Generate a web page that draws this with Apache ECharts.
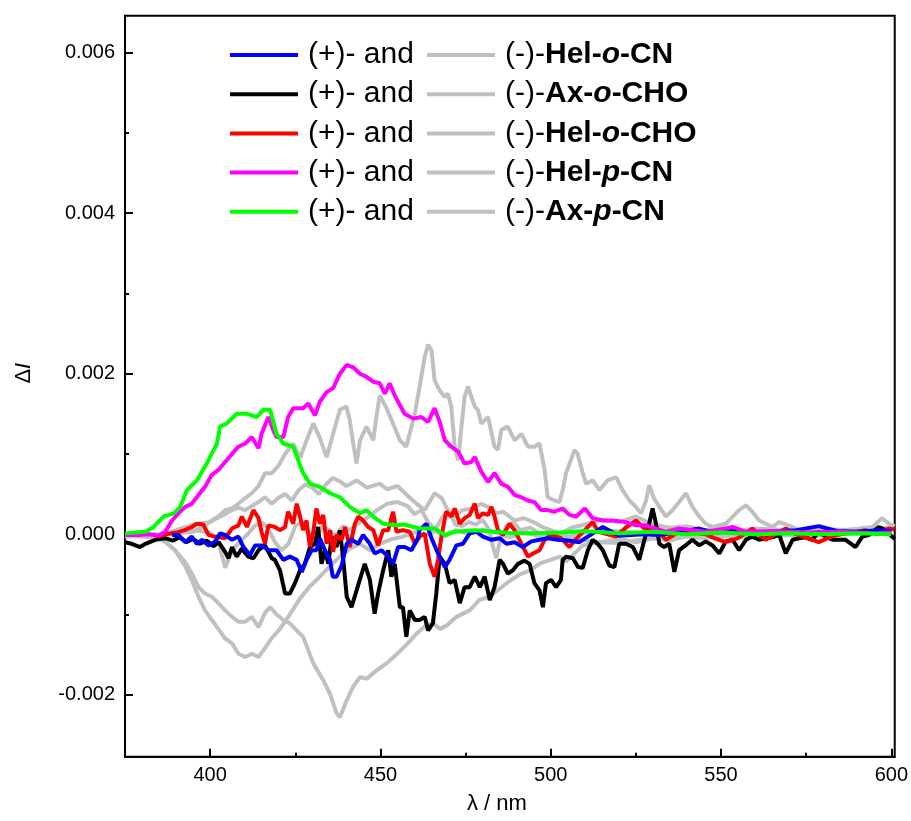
<!DOCTYPE html>
<html><head><meta charset="utf-8">
<script src="https://cdn.jsdelivr.net/npm/echarts@6/dist/echarts.min.js"></script>
<style>html,body{margin:0;padding:0;background:#fff}#c{width:911px;height:821px}</style>
</head><body><div id="c"></div>
<script>
const FONT = '"Liberation Sans", Arial, Helvetica, sans-serif';

// tick label values
const xLabelValues = [400, 450, 500, 550, 600];
const yLabelValues = [-0.002, 0, 0.002, 0.004, 0.006];

// legend entries (compound, italic letter split)
const compoundParts = [
  ['Hel-', 'o', '-CN'],
  ['Ax-', 'o', '-CHO'],
  ['Hel-', 'o', '-CHO'],
  ['Hel-', 'p', '-CN'],
  ['Ax-', 'p', '-CN']
];
const plusColors = ['#0000ff', '#000000', '#ff0000', '#ff00ff', '#00ff00'];
const grayColor = '#c0c0c0';

// ---- (+) enantiomers ----
const blueX = [388.8,390.7,392.7,394.6,396.1,397.6,399.5,401.5,402.9,404.4,406.4,408.3,409.8,411.7,413.2,415.1,417.1,419.5,421.5,423.4,425.4,426.9,428.3,429.8,431.2,432.2,433.7,435.2,436,437.1,438.6,440.1,441.5,443.5,444.9,446.9,448.3,450.3,452.3,453.7,455.2,457.1,459.1,461,461.5,463.5,465,466.9,468.9,470.3,472.3,474.2,476.2,478.2,480.1,482.6,485,487,489.4,491.8,494.3,496.7,499.1,502,505,508.4,512,515.3,520.1,527,532,538,543.6,548,553.4,558,565.1,572,578.7,584,590.4,596,600];
const blueY = [-0.00001,-0.00001,-0.0001,-0.00003,-0.00012,-0.00007,-0.00014,-0.00009,0.00001,-0.00001,-0.00007,-0.00003,-0.00016,-0.00026,-0.00014,-0.00014,-0.0002,-0.0002,-0.00032,-0.00028,-0.00032,-0.00047,-0.00032,-0.0002,-0.0002,-0.00005,-0.0002,-0.00032,-0.00053,-0.00053,-0.00039,-0.00012,-0.00007,-0.00012,-0.00001,-0.00012,-0.00024,-0.0002,-0.00028,-0.00037,-0.00016,-0.00016,-0.0002,-0.00005,0.00005,0.00013,-0.00005,-0.00024,-0.00041,-0.00032,-0.00014,-0.00012,0.00001,0.00003,-0.00003,-0.00007,-0.00005,-0.00012,-0.0001,-0.00016,-0.00009,-0.00007,-0.00005,-0.00007,-0.00008,-0.0001,0,0.00009,-0.00002,0,-0.00001,0.00003,0.00007,0.00002,0.00005,0.00001,0.00003,0.00005,0.0001,0.00004,0.00003,0.00005,0.00004];

const blackX = [375,377,379.4,381,383.9,386.8,389,391,393,395,397,399,401,402.5,404.4,405.4,406.4,407.8,409.3,411.2,412.7,414.2,416.1,418.1,419,420.5,422,423.4,424.9,426.4,427.8,429.3,430.8,431.7,432.7,433.7,434.7,435.7,437.1,438.1,439.1,440.1,441.5,443,444.5,445.4,446.9,448.3,449.3,450.8,452.3,453.2,454.2,455.7,456.6,457.6,458.6,460.1,461.5,463,464,465.4,466.4,467.4,468.9,470.3,471.8,473.3,474.7,476.2,477.7,479.2,480.6,482.1,483.5,485,486,487.4,488.9,490.4,492.3,493.8,495.2,496.7,497.7,498.6,500.1,501.6,503,503.5,504.5,506.5,508,509.4,510.9,512.3,513.8,515.3,517.2,518.7,520.1,522.1,524.1,526,527.5,528.9,529.9,530.9,531.9,533.3,534.8,536.3,537.7,539.6,541.6,543.6,545.5,547.5,549.5,551.4,553.4,555.3,557.3,559.2,561.2,563.1,565.1,567.1,569,571,572.9,574.9,576.8,578.7,580.7,582.7,586.6,589.5,591.5,593.4,596.3,598.3,600.2,601];
const blackY = [-0.0001,-0.00012,-0.00016,-0.00012,-0.00007,-0.00005,-0.00008,-0.00004,-0.0001,-0.00006,-0.00012,-0.00008,-0.00015,-0.0001,-0.00022,-0.0003,-0.00016,-0.00028,-0.00018,-0.00028,-0.0003,-0.0002,-0.00014,-0.0003,-0.00032,-0.00045,-0.00074,-0.00074,-0.00061,-0.00045,-0.00037,-0.00016,-0.00012,0.00009,-0.00037,-0.0002,-0.00037,-0.00003,-0.00016,0.00005,-0.00032,-0.00078,-0.00091,-0.0007,-0.00049,-0.00037,-0.00057,-0.00099,-0.00074,-0.00045,-0.0002,-0.00053,-0.00037,-0.00091,-0.00091,-0.00128,-0.00095,-0.00107,-0.00107,-0.00103,-0.0012,-0.00111,-0.00074,-0.00028,-0.00037,-0.00061,-0.00057,-0.00086,-0.00066,-0.00066,-0.00053,-0.00066,-0.00053,-0.00082,-0.00066,-0.00032,-0.00037,-0.00049,-0.00045,-0.00037,-0.00033,-0.00037,-0.00061,-0.0007,-0.00091,-0.00061,-0.00057,-0.00066,-0.00057,-0.00032,-0.00028,-0.0003,-0.00041,-0.00042,-0.0002,-0.00007,-0.00012,-0.0002,-0.00039,-0.00041,-0.00012,-0.00012,-0.00016,-0.00032,-0.00007,0.00013,0.00032,0.00013,-0.00012,-0.00016,-0.00012,-0.00047,-0.0002,-0.00014,-0.00007,-0.00014,-0.00009,-0.00014,-0.00024,-0.00009,-0.00007,-0.0002,-0.00007,-0.00003,-0.00007,-0.00005,-0.00004,-0.00001,-0.00024,-0.00007,-0.00005,-0.00004,-0.00007,0.00003,-0.00003,-0.00007,-0.00007,-0.00016,-0.00003,-0.00001,0.00009,0.00005,-0.00003,-0.00006];

const redX = [383.9,387,390,392.5,394.6,396.1,398,399.5,401.5,404.4,406.4,408.3,409.3,410.8,412.7,414.2,415.1,416.1,417.1,419,420.5,422,422.9,424.4,425.4,426.4,427.3,428.3,429.3,430.3,431.2,432.2,433.2,434.2,435.2,436.1,437.1,438.6,439.6,441,442.5,443.5,444.9,446.4,447.9,449.3,450.8,452.3,453.7,454.7,456.6,458.6,460.1,461.5,463,464.5,465.9,466.9,467.9,469.3,470.8,471.8,473.3,474.7,476.2,477.7,478.6,480.1,481.6,482.6,483.5,484.5,486,487.9,489.4,491.4,493.3,494.8,496.7,498.2,500.1,503,505.5,507,510,512.3,514,519.2,522,525,528,531.9,533.8,537,539.6,545.5,548,551.4,555,559.2,563.1,566,569,572,578.7,583,586.6,592.4,596,599.2,600.9];
const redY = [-0.00003,0,0.00002,0.00005,0.00009,0.00013,0.00012,-0.00001,-0.00003,-0.00005,0.00007,0.00011,0.00022,0.00009,0.0003,0.0002,0.00003,-0.00012,0.00011,0.00009,0.00005,0.00009,0.00028,0.00013,0.00038,0.00022,0.00005,0.00017,-0.00016,0.00003,0.00032,0.00013,0.00024,-0.00012,0.00005,-0.00022,-0.00001,-0.00007,0.00009,-0.00016,0.00013,0.00022,0.00017,0.00009,0.00005,-0.00014,0.00005,0.00005,0.00028,0.00003,0.00005,0.00003,-0.00012,-0.00003,0.00001,-0.00037,-0.00053,-0.00032,-0.00003,0.00028,0.00022,0.00032,0.00013,0.0002,0.00024,0.00038,0.0002,0.00026,0.00024,0.00034,0.00022,0.00005,-0.00001,0.00013,0.00005,-0.00012,-0.00028,-0.00024,-0.0002,-0.00007,-0.00001,-0.00005,-0.00016,-0.00008,0.00005,0.00015,0.00003,-0.00003,0.00008,0.00017,0.00005,0.00003,-0.00007,0.00001,0.00003,0,-0.00005,-0.0001,-0.00005,0.00007,-0.00007,0,0.00007,0,-0.0001,-0.00002,0.00001,0.00005,0,0.00007,0.00006];

const magentaX = [375,379,382,385,386.8,388.8,390.7,392.7,394.6,396.6,398.5,400.5,402.4,404.4,406.4,408.3,410.3,412.2,414.2,415.1,417.1,418.5,419.5,421.5,422.9,424.4,427.3,428.8,430.8,432.2,434.2,436.1,438.1,440.1,442,444,445.9,447.9,449.8,451.3,452.7,454.2,455.7,457.1,459.6,462,464,465.9,467.4,468.9,470.8,472.8,474.7,476.7,477.7,479.6,481.6,483.5,485.5,487.4,489.4,491.4,493.3,495.2,497.2,499.1,501.1,503.5,505.5,507.5,510,512.3,515.3,518.2,522.1,525,528,530.9,533.8,537.7,541.6,545.5,551.4,553.4,557.3,565,575,585,595,600];
const magentaY = [-0.00001,-0.00001,0,-0.00002,0.00003,0.00017,0.00026,0.00034,0.00038,0.00049,0.00059,0.00074,0.0008,0.0009,0.001,0.00109,0.00113,0.00121,0.00107,0.00125,0.00146,0.0013,0.00121,0.00121,0.00146,0.00157,0.00157,0.00163,0.00148,0.00165,0.00177,0.00182,0.002,0.00211,0.00208,0.002,0.00196,0.0019,0.00188,0.00175,0.00188,0.00173,0.00161,0.0015,0.00144,0.00146,0.0014,0.00157,0.0014,0.00117,0.00109,0.00103,0.00088,0.0009,0.00096,0.00078,0.00065,0.00076,0.00063,0.00059,0.00049,0.00046,0.00042,0.0004,0.0003,0.0003,0.00028,0.00032,0.00024,0.00022,0.00032,0.0002,0.00017,0.00017,0.00015,0.00011,0.00011,0.00007,0.00003,0.00007,0.00005,0.00003,0.00007,0.00009,0.00003,0.00004,0.00002,0.00003,0.00001,0.00002];

const greenX = [375,378,381,383.4,386.3,389.3,391.2,393.2,396.1,399,402,402.9,404.9,407.8,410.8,413.7,415.6,417.6,419.5,421.5,424.4,427.3,429.3,432.2,435.2,438.1,441,444,445.9,447.9,450.8,454.7,457,461.5,466,468.9,471.8,477.7,483.5,489.4,495.2,503,510,520,530,540,550,560,570,580,590,600];
const greenY = [0.00001,0.00002,0.00003,0.00009,0.00022,0.00026,0.00034,0.00055,0.00067,0.00088,0.00113,0.00134,0.00138,0.0015,0.0015,0.00146,0.00155,0.00155,0.00125,0.00113,0.00109,0.00076,0.00063,0.00059,0.00051,0.00046,0.00034,0.00026,0.0003,0.00022,0.00013,0.00011,0.00012,0.00007,0.00007,-0.00001,0.00003,0.00005,0.00003,0.00001,0.00001,0.00002,0.00004,0.00001,0.00003,0,0.00002,0,0.00001,0,0.00001,0];

// ---- (-) enantiomers (grey) ----
const grayHelOCNX = [375,385,390,395,400,402.4,403.4,404.4,405.5,407,409,411,413,415,417,419,421,423,425,427,429,431,433,435,437,439,441,443,446,449,452,455,458,460,462,464,466,468,470,472,474,476,478,480,482,483,484,485,487,489,491,494,497,500,505,510,515,520,525,530,535,540,545,550,560,570,580,590,600];
const grayHelOCNY = [-0.00003,-0.00002,0.00002,0.00005,0.00002,-0.0001,-0.00025,-0.00042,-0.0003,-0.00018,-0.00008,0,0.0001,0.00015,0.00008,-0.0001,-0.0002,-0.00012,0.0001,0.00015,0,-0.00008,0.0001,0.00005,-0.00002,0.0001,0.00005,0.00012,0.0002,0.0003,0.00038,0.0004,0.00035,0.00025,0.0003,0.00015,0.00005,0.0002,0.0003,0.00012,0.0001,0.00015,0.00012,0.00018,0.00005,-0.00015,-0.0003,-0.0001,0.0001,0.00015,0.00005,0.00008,0,0.00003,-0.00005,-0.00008,-0.0001,-0.00006,-0.0001,-0.00005,-0.00008,-0.00002,0,-0.00003,0,0.00003,0,0.00002,0.00002];

const grayAxOCHOX = [375,385,390,395,398,400.5,402.4,404.4,406.4,408.3,410.3,412.2,414.2,416.1,418.1,420,422,424.4,426.4,428.3,430.3,432.2,434.2,436.1,438.1,440,441,442,443,444,445.9,447.9,448.8,449.8,451.8,453.7,455.7,457.6,459.6,460.1,462,463,464,465,465.9,467.4,468.9,469.8,470.8,471.8,472.8,473.7,474.7,475.7,476.7,477.7,478.6,479.6,481.6,483.5,484.5,485.5,487.4,489.4,491.4,493.3,495.2,496.7,498.2,499.1,501.1,502.6,503.5,504.5,507,507.9,509.4,510.4,512.3,514.3,516.7,519.2,521.1,523.1,525,526.5,528,528.9,530.4,531.9,533.8,535.8,537.7,539.7,541.6,543.6,545.5,547.5,551.4,555.3,557.3,559.2,561.2,565.1,567.1,571,574.9,578.7,586.6,594.4,597.3,599.3,601];
const grayAxOCHOY = [-0.00001,0,0.00001,0.00003,0.0001,0.00017,0.00022,0.0003,0.00032,0.00038,0.00045,0.00051,0.0006,0.00076,0.00076,0.00085,0.001,0.00113,0.00095,0.00117,0.00138,0.0012,0.00096,0.00125,0.00155,0.00159,0.00142,0.00113,0.00088,0.00117,0.00134,0.00117,0.00146,0.00173,0.00157,0.00138,0.00117,0.00109,0.00142,0.0015,0.00196,0.00221,0.00236,0.00229,0.00192,0.00179,0.00171,0.00175,0.00159,0.00109,0.00092,0.0013,0.00171,0.00184,0.00171,0.00159,0.00155,0.00138,0.00146,0.00109,0.00105,0.0013,0.00134,0.00117,0.00125,0.00109,0.00109,0.00113,0.0008,0.00046,0.00042,0.0004,0.00055,0.00076,0.00105,0.001,0.00076,0.00063,0.00067,0.00055,0.00067,0.00071,0.00055,0.00042,0.00034,0.00026,0.00042,0.00061,0.00044,0.00034,0.00022,0.0003,0.0004,0.00051,0.00034,0.00022,0.00013,0.00009,0.00013,0.0003,0.00036,0.00028,0.00017,0.00009,0.00015,0.00009,0.00001,0.00007,0.00005,0.00009,0.0002,0.00013,0.0001];

const grayHelOCHOX = [375,385,390,395,400,402,404.4,406.4,408.3,410.3,412.2,414.2,416.1,418.1,420,422,424,426,428,430,432,434,436,438,440,443,446,449.8,452,455,458,460.6,463,465.9,468,470,472,474,477,479.6,482,484,486,489.4,492,495,498,500,503,506,510,515,520,525,530,535,540,545,550,555,560,570,580,590,600];
const grayHelOCHOY = [-0.00002,0,0.00005,0.00012,0.00015,0.0002,0.00025,0.0003,0.00033,0.0003,0.00035,0.0004,0.00046,0.00038,0.00045,0.0005,0.00042,0.00055,0.00062,0.00058,0.0005,0.00062,0.0007,0.00066,0.0006,0.00067,0.00058,0.00063,0.00056,0.0006,0.00048,0.00038,0.0003,0.00051,0.00045,0.00028,0.00022,0.0003,0.00032,0.00038,0.00033,0.00026,0.00028,0.00017,0.0002,0.00015,0.00008,0.00005,0.00001,0.00008,0.00012,0.00018,0.00015,0.00022,0.00012,0.00008,0.0001,0.00005,0.00008,0.00004,0.00007,0.00005,0.00004,0.00006,0.00008];

const grayHelPCNX = [375,380,385,387,389.7,392.7,394.6,396.6,398.5,400.5,402.4,404.4,406.4,408.3,410.3,412.2,414.2,416.1,417.6,419.5,421.5,423.4,425.4,427.3,430.3,433.2,435.2,437.1,438.1,440.1,442,444,446,448.8,451.8,454.7,457.6,460.6,463,465.4,467.5,469.4,472.3,476.2,479,482,485,488,491,494,497,500,502.6,504.5,506.5,509.4,512,515,520,525,530,535,540,545,550,560,570,580,590,600];
const grayHelPCNY = [-0.00002,-0.00003,-0.00005,-0.0001,-0.0002,-0.00035,-0.00049,-0.00066,-0.00074,-0.00078,-0.00086,-0.00095,-0.00103,-0.00109,-0.00109,-0.00103,-0.00116,-0.00098,-0.00091,-0.001,-0.00107,-0.00111,-0.0012,-0.00128,-0.00161,-0.00182,-0.00199,-0.00223,-0.00228,-0.00207,-0.0019,-0.00178,-0.0018,-0.0017,-0.00161,-0.0015,-0.00138,-0.00124,-0.00115,-0.00111,-0.00118,-0.00114,-0.00103,-0.00095,-0.00082,-0.00078,-0.00068,-0.00058,-0.0005,-0.00045,-0.00036,-0.00032,-0.00028,-0.00034,-0.00026,-0.00014,-0.00012,-0.0001,-0.00011,-0.00008,-0.00005,-0.00006,-0.00003,-0.00005,-0.00002,-0.00004,-0.00001,-0.00002,0.00001,0];

const grayAxPCNX = [375,380,385,387,389.7,392.7,394.6,396.6,398.5,400.5,402.4,404.4,406.4,408.3,410.3,412.2,414.2,416.1,418,420.5,423.4,426.4,429.3,432.2,435.2,438.1,441,444,446.9,449.8,452.7,456.6,460.6,463,466,469,472,476,480,484,488,492,496,500,505,510,520,530,540,550,560,570,580,590,600];
const grayAxPCNY = [-0.00002,-0.00002,-0.00004,-0.0001,-0.0002,-0.0004,-0.00057,-0.00078,-0.00095,-0.00107,-0.00118,-0.0013,-0.00136,-0.00149,-0.00153,-0.00149,-0.00153,-0.00142,-0.0013,-0.00118,-0.001,-0.0008,-0.00065,-0.00053,-0.0004,-0.00028,-0.00018,-0.00012,-0.0002,-0.00012,-0.00007,-0.00003,0.00003,-0.00002,0.00004,-0.00003,0.00005,0,0.00006,0.00002,-0.00004,0.00003,-0.00002,0.00001,-0.00003,0.00002,0.00004,0,0.00002,0.00005,0.00001,0.00004,0.00002,0.00006,0.00003];

function pairs(xs, ys) { return xs.map((x, i) => [x, ys[i]]); }

const plusData = [pairs(blueX, blueY), pairs(blackX, blackY), pairs(redX, redY), pairs(magentaX, magentaY), pairs(greenX, greenY)];
const minusData = [pairs(grayHelOCNX, grayHelOCNY), pairs(grayAxOCHOX, grayAxOCHOY), pairs(grayHelOCHOX, grayHelOCHOY), pairs(grayHelPCNX, grayHelPCNY), pairs(grayAxPCNX, grayAxPCNY)];

const compoundNames = compoundParts.map(p => p.join(''));
const plusNames = compoundNames.map(n => '(+)-' + n);
const minusNames = compoundNames.map(n => '(-)-' + n);

const LW = 4;
const series = [];
minusData.forEach((d, i) => series.push({
  name: minusNames[i], type: 'line', data: d, showSymbol: false, symbol: 'none',
  lineStyle: { color: grayColor, width: LW }, itemStyle: { color: grayColor }, z: 2
}));
// draw order: black, red, blue, magenta, green
[1, 2, 0, 3, 4].forEach(i => series.push({
  name: plusNames[i], type: 'line', data: plusData[i], showSymbol: false, symbol: 'none',
  lineStyle: { color: plusColors[i], width: LW }, itemStyle: { color: plusColors[i] }, z: 3
}));

const legendBase = {
  orient: 'vertical', icon: 'rect', itemWidth: 68, itemHeight: 4, itemGap: 9.2,
  selectedMode: false, padding: 0,
};
const LF = 30;

const chart = echarts.init(document.getElementById('c'), null, { renderer: 'canvas' });
chart.setOption({
  animation: false,
  backgroundColor: '#fff',
  grid: { left: 125, right: 15, top: 15.7, bottom: 64.3, show: true, borderColor: '#000', borderWidth: 2, backgroundColor: 'transparent' },
  legend: [
    Object.assign({}, legendBase, {
      data: plusNames, left: 230, top: 40,
      formatter: () => '{t|(+)- and}',
      textStyle: { color: '#000', fontFamily: FONT, fontSize: LF, lineHeight: 30,
        rich: { t: { fontFamily: FONT, fontSize: LF, color: '#000', padding: [0, 0, 0, 5], lineHeight: 30 } } }
    }),
    Object.assign({}, legendBase, {
      data: minusNames, left: 427, top: 40,
      formatter: name => {
        const p = compoundParts[minusNames.indexOf(name)];
        return '{r|(-)-}{b|' + p[0] + '}{bi|' + p[1] + '}{b|' + p[2] + '}';
      },
      textStyle: { color: '#000', fontFamily: FONT, fontSize: LF, lineHeight: 30,
        rich: {
          r: { fontFamily: FONT, fontSize: LF, color: '#000', padding: [0, 0, 0, 5], lineHeight: 30 },
          b: { fontFamily: FONT, fontSize: LF, color: '#000', fontWeight: 'bold', lineHeight: 30 },
          bi: { fontFamily: FONT, fontSize: LF, color: '#000', fontWeight: 'bold', fontStyle: 'italic', lineHeight: 30 }
        } }
    })
  ],
  xAxis: {
    type: 'value', min: 375, max: 601,
    name: 'λ / nm', nameLocation: 'middle', nameGap: 36,
    nameTextStyle: { fontFamily: FONT, fontSize: 22, color: '#000', padding: [0, 26, 0, 0] },
    axisLine: { show: true, onZero: false, lineStyle: { color: '#000', width: 2 } },
    axisTick: { show: true, inside: true, length: 8, lineStyle: { color: '#000', width: 2 }, customValues: xLabelValues },
    minorTick: { show: true, splitNumber: 2, length: 4, lineStyle: { color: '#000', width: 2 } },
    axisLabel: { show: true, customValues: xLabelValues, margin: 9, fontFamily: FONT, fontSize: 20, color: '#000' },
    splitLine: { show: false }, minorSplitLine: { show: false }
  },
  yAxis: {
    type: 'value', min: -0.002773, max: 0.006461,
    name: '{d|Δ}{i|I}', nameLocation: 'middle', nameGap: 90, nameRotate: 90,
    nameTextStyle: { fontFamily: FONT, fontSize: 22, color: '#000', padding: [0, 0, 0, 26],
      rich: { d: { fontFamily: FONT, fontSize: 22, color: '#000' }, i: { fontFamily: FONT, fontSize: 22, color: '#000', fontStyle: 'italic' } } },
    axisLine: { show: true, onZero: false, lineStyle: { color: '#000', width: 2 } },
    axisTick: { show: true, inside: true, length: 8, lineStyle: { color: '#000', width: 2 }, customValues: yLabelValues },
    minorTick: { show: true, splitNumber: 2, length: 4, lineStyle: { color: '#000', width: 2 } },
    axisLabel: { show: true, customValues: yLabelValues, margin: 10, fontFamily: FONT, fontSize: 20, color: '#000',
      formatter: v => Number(v).toFixed(3) },
    splitLine: { show: false }, minorSplitLine: { show: false }
  },
  series: series
});
</script>
</body></html>
